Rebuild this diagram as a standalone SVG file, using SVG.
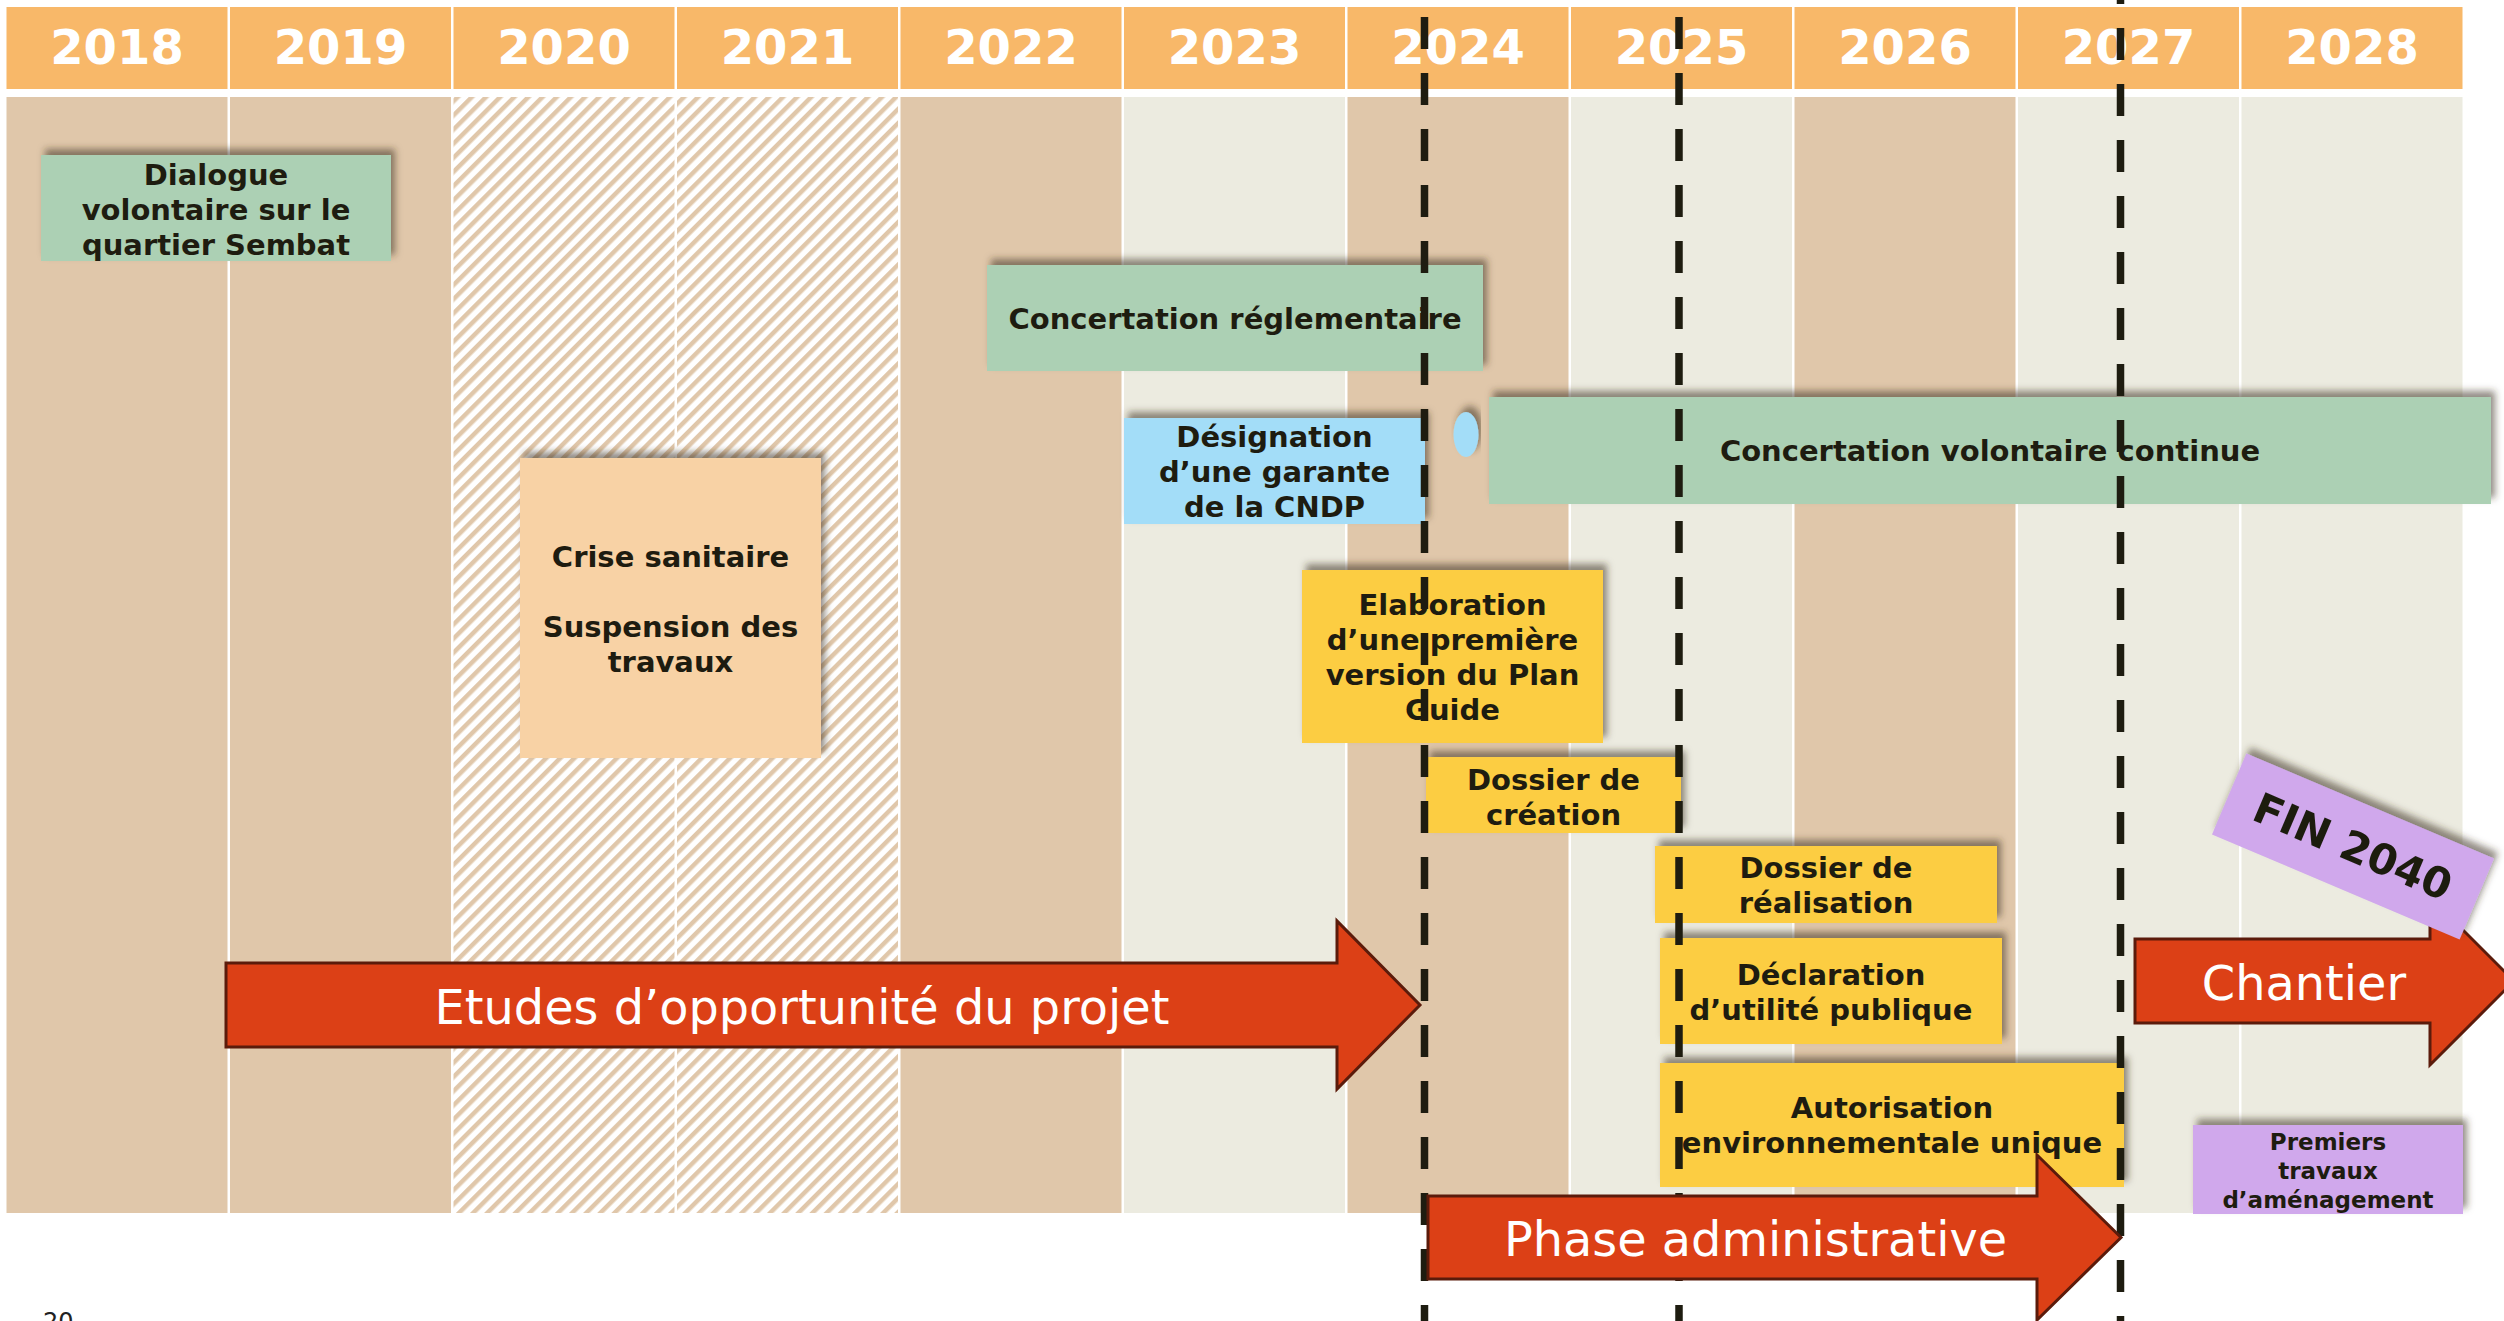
<svg xmlns="http://www.w3.org/2000/svg" width="2504" height="1321" viewBox="0 0 2504 1321">
  <style>
    .hdr { fill: #F8B869; }
    .yr { font-family: 'DejaVu Sans', Verdana, sans-serif; font-weight: bold; font-size: 48px; fill: #FFFFFF; text-anchor: middle; }
    .tan { fill: #E0C7AA; }
    .lite { fill: #ECEBE0; }
    .hatch { fill: url(#stripes); }
    .lbl { font-family: 'DejaVu Sans', Verdana, sans-serif; font-weight: bold; font-size: 29px; fill: #1E1C10; text-anchor: middle; }
    .lbl-s { font-size: 23px; }
    .green { fill: #ACD0B4; }
    .blue { fill: #A3DDF8; }
    .peach { fill: #F8D2A5; }
    .yellow { fill: #FCCD43; }
    .purple { fill: #D0A8EC; }
    .arrow { fill: #DC4016; stroke: #5B1B0B; stroke-width: 3; stroke-linejoin: miter; }
    .arrtxt { font-family: 'DejaVu Sans', Verdana, sans-serif; font-size: 47.8px; fill: #FFFFFF; text-anchor: middle; }
    .dash { stroke: #1E1C10; stroke-width: 7.5; stroke-dasharray: 32 24; fill: none; }
  </style>
  <defs>
    <pattern id="stripes" patternUnits="userSpaceOnUse" width="10" height="10" patternTransform="rotate(45)">
      <rect x="0" y="0" width="10" height="10" fill="#FFFFFF"/>
      <rect x="0" y="0" width="4.5" height="10" fill="#E0C7AA"/>
    </pattern>
    <filter id="shadow" x="-10%" y="-30%" width="120%" height="160%">
      <feDropShadow dx="4" dy="-6" stdDeviation="3.5" flood-color="#3A2E20" flood-opacity="0.55"/>
    </filter>
  </defs>

  <rect x="0" y="0" width="2504" height="1321" fill="#FFFFFF"/>

  <!-- year header -->
  <g id="header">
    <rect class="hdr" x="6.5" y="7" width="221" height="82"/>
    <rect class="hdr" x="230" y="7" width="221" height="82"/>
    <rect class="hdr" x="453.5" y="7" width="221" height="82"/>
    <rect class="hdr" x="677" y="7" width="221" height="82"/>
    <rect class="hdr" x="900.5" y="7" width="221" height="82"/>
    <rect class="hdr" x="1124" y="7" width="221" height="82"/>
    <rect class="hdr" x="1347.5" y="7" width="221" height="82"/>
    <rect class="hdr" x="1571" y="7" width="221" height="82"/>
    <rect class="hdr" x="1794.5" y="7" width="221" height="82"/>
    <rect class="hdr" x="2018" y="7" width="221" height="82"/>
    <rect class="hdr" x="2241.5" y="7" width="221" height="82"/>
    <text class="yr" x="117" y="64">2018</text>
    <text class="yr" x="340.5" y="64">2019</text>
    <text class="yr" x="564" y="64">2020</text>
    <text class="yr" x="787.5" y="64">2021</text>
    <text class="yr" x="1011" y="64">2022</text>
    <text class="yr" x="1234.5" y="64">2023</text>
    <text class="yr" x="1458" y="64">2024</text>
    <text class="yr" x="1681.5" y="64">2025</text>
    <text class="yr" x="1905" y="64">2026</text>
    <text class="yr" x="2128.5" y="64">2027</text>
    <text class="yr" x="2352" y="64">2028</text>
  </g>

  <!-- year columns -->
  <g id="columns">
    <rect class="tan" x="6.5" y="97" width="221" height="1116"/>
    <rect class="tan" x="230" y="97" width="221" height="1116"/>
    <rect class="hatch" x="453.5" y="97" width="221" height="1116"/>
    <rect class="hatch" x="677" y="97" width="221" height="1116"/>
    <rect class="tan" x="900.5" y="97" width="221" height="1116"/>
    <rect class="lite" x="1124" y="97" width="221" height="1116"/>
    <rect class="tan" x="1347.5" y="97" width="221" height="1116"/>
    <rect class="lite" x="1571" y="97" width="221" height="1116"/>
    <rect class="tan" x="1794.5" y="97" width="221" height="1116"/>
    <rect class="lite" x="2018" y="97" width="221" height="1116"/>
    <rect class="lite" x="2241.5" y="97" width="221" height="1116"/>
  </g>

  <g id="dialogue">
    <rect class="green" x="41" y="155" width="350" height="106" filter="url(#shadow)"/>
    <text class="lbl"><tspan x="216" y="185">Dialogue</tspan><tspan x="216" y="220">volontaire sur le</tspan><tspan x="216" y="255">quartier Sembat</tspan></text>
  </g>

  <g id="crise">
    <rect class="peach" x="520" y="458" width="301" height="300" filter="url(#shadow)"/>
    <text class="lbl"><tspan x="670.5" y="567">Crise sanitaire</tspan><tspan x="670.5" y="637">Suspension des</tspan><tspan x="670.5" y="672">travaux</tspan></text>
  </g>

  <g id="concertation-reglementaire">
    <rect class="green" x="987" y="265" width="496" height="106" filter="url(#shadow)"/>
    <text class="lbl" x="1235" y="329">Concertation réglementaire</text>
  </g>

  <g id="designation">
    <rect class="blue" x="1124" y="418" width="301" height="106" filter="url(#shadow)"/>
    <text class="lbl"><tspan x="1274.5" y="447">Désignation</tspan><tspan x="1274.5" y="482">d’une garante</tspan><tspan x="1274.5" y="517">de la CNDP</tspan></text>
  </g>

  <g id="garante-point">
    <ellipse class="blue" cx="1466" cy="434.5" rx="12.5" ry="22.5" filter="url(#shadow)"/>
  </g>

  <g id="concertation-volontaire">
    <rect class="green" x="1489" y="397" width="1002" height="107" filter="url(#shadow)"/>
    <text class="lbl" x="1990" y="461">Concertation volontaire continue</text>
  </g>

  <g id="plan-guide">
    <rect class="yellow" x="1302" y="570" width="301" height="173" filter="url(#shadow)"/>
    <text class="lbl"><tspan x="1452.5" y="615">Elaboration</tspan><tspan x="1452.5" y="650">d’une première</tspan><tspan x="1452.5" y="685">version du Plan</tspan><tspan x="1452.5" y="720">Guide</tspan></text>
  </g>

  <g id="dossier-creation">
    <rect class="yellow" x="1426" y="757" width="255" height="76" filter="url(#shadow)"/>
    <text class="lbl"><tspan x="1553.5" y="790">Dossier de</tspan><tspan x="1553.5" y="825">création</tspan></text>
  </g>

  <g id="dossier-realisation">
    <rect class="yellow" x="1655" y="846" width="342" height="77" filter="url(#shadow)"/>
    <text class="lbl"><tspan x="1826" y="878">Dossier de</tspan><tspan x="1826" y="913">réalisation</tspan></text>
  </g>

  <g id="declaration">
    <rect class="yellow" x="1660" y="938" width="342" height="106" filter="url(#shadow)"/>
    <text class="lbl"><tspan x="1831" y="985">Déclaration</tspan><tspan x="1831" y="1020">d’utilité publique</tspan></text>
  </g>

  <g id="autorisation">
    <rect class="yellow" x="1660" y="1063" width="464" height="124" filter="url(#shadow)"/>
    <text class="lbl"><tspan x="1892" y="1118">Autorisation</tspan><tspan x="1892" y="1153">environnementale unique</tspan></text>
  </g>

  <g id="premiers-travaux">
    <rect class="purple" x="2193" y="1125" width="270" height="89" filter="url(#shadow)"/>
    <text class="lbl lbl-s"><tspan x="2328" y="1150">Premiers</tspan><tspan x="2328" y="1179">travaux</tspan><tspan x="2328" y="1208">d’aménagement</tspan></text>
  </g>

  <g id="etudes">
    <path class="arrow" d="M226,963 H1337 V921 L1420,1005 L1337,1089 V1047 H226 Z"/>
    <text class="arrtxt" x="802" y="1024">Etudes d’opportunité du projet</text>
  </g>

  <g id="chantier">
    <path class="arrow" d="M2135,939 H2430 V897 L2514,981 L2430,1065 V1023 H2135 Z"/>
    <text class="arrtxt" x="2304" y="1000">Chantier</text>
  </g>

  <g id="fin-2040" filter="url(#shadow)">
    <g transform="translate(2353,846.5) rotate(23)">
      <rect class="purple" x="-134.5" y="-44" width="269" height="88"/>
      <text class="lbl" x="0" y="15" style="font-size:42px">FIN 2040</text>
    </g>
  </g>

  <!-- milestone dashed lines -->
  <g id="milestone-lines">
    <line class="dash" x1="1424.5" y1="17" x2="1424.5" y2="1321"/>
    <line class="dash" x1="1679" y1="17" x2="1679" y2="1321"/>
    <line class="dash" x1="2120.5" y1="-28" x2="2120.5" y2="1321"/>
  </g>

  <g id="phase-administrative">
    <path class="arrow" d="M1428,1196 H2037 V1155 L2121,1237.5 L2037,1320 V1279 H1428 Z"/>
    <text class="arrtxt" x="1755.5" y="1256">Phase administrative</text>
  </g>

  <!-- page number -->
  <text x="43" y="1330" font-family="'DejaVu Sans', Verdana, sans-serif" font-size="24" fill="#222222">20</text>
</svg>
